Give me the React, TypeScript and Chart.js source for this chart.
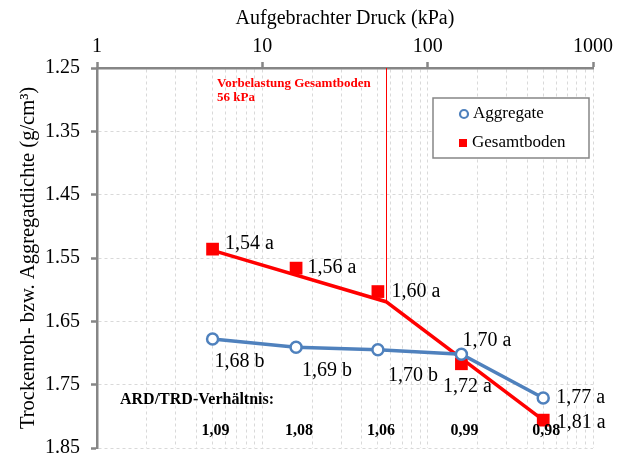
import React, { useEffect, useRef } from 'react';
import { Chart, registerables } from 'chart.js';

Chart.register(...registerables);

// ---- data ----
const pressures = [5, 16, 50, 160, 500];
const aggregate = [1.678, 1.691, 1.695, 1.702, 1.771];
const gesamtboden = [1.536, 1.566, 1.603, 1.717, 1.806];
const fitPressures = [5, 56, 500];
const fitValues = [1.538, 1.619, 1.806];
const aggregateLabels = ['1,68 b', '1,69 b', '1,70 b', '1,70 a', '1,77 a'];
const gesamtLabels = ['1,54 a', '1,56 a', '1,60 a', '1,72 a', '1,81 a'];
const ratioLabels = ['1,09', '1,08', '1,06', '0,99', '0,98'];
const preconsolidation = 56;
const xGridTicks = [1, 2, 3, 4, 5, 6, 7, 8, 9, 10, 20, 30, 40, 50, 60, 70, 80, 90, 100, 200, 300, 400, 500, 600, 700, 800, 900, 1000];
const xMajorTicks = [1, 10, 100, 1000];
const yTicks = [1.25, 1.35, 1.45, 1.55, 1.65, 1.75, 1.85];

// ---- styles / label placement (pixel offsets from points) ----
const aggLabelOffsets = [[2, 23], [6, 23], [10, 26], [1, -14], [13, 0]];
const gesLabelOffsets = [[12.5, -5], [11.5, 0], [13.5, 0], [-18.5, 23], [13.5, 3]];
const FONT = "'Liberation Serif', 'Times New Roman', serif";
const BLUE = '#4F81BD';
const RED = '#FF0000';
const AXIS = '#868686';
const GRID = '#d9d9d9';

const overlay = {
  id: 'overlay',
  beforeDatasetsDraw(chart: any) {
    const { ctx, chartArea, scales } = chart;
    const x = scales.x.getPixelForValue(preconsolidation);
    const yEnd = scales.y.getPixelForValue(fitValues[1]);
    ctx.save();
    ctx.strokeStyle = RED;
    ctx.lineWidth = 1;
    ctx.beginPath();
    ctx.moveTo(Math.round(x) + 0.5, chartArea.top);
    ctx.lineTo(Math.round(x) + 0.5, yEnd);
    ctx.stroke();
    ctx.restore();
  },
  afterDatasetsDraw(chart: any) {
    const { ctx, chartArea, scales } = chart;
    const xs = scales.x;
    const ys = scales.y;
    ctx.save();
    ctx.textBaseline = 'middle';
    ctx.textAlign = 'left';
    ctx.fillStyle = '#000';
    ctx.font = `20px ${FONT}`;
    pressures.forEach((p, i) => {
      const px = xs.getPixelForValue(p);
      const pyA = ys.getPixelForValue(aggregate[i]);
      const pyG = ys.getPixelForValue(gesamtboden[i]);
      ctx.fillText(aggregateLabels[i], px + aggLabelOffsets[i][0], pyA + aggLabelOffsets[i][1]);
      ctx.fillText(gesamtLabels[i], px + gesLabelOffsets[i][0], pyG + gesLabelOffsets[i][1]);
    });
    // ratio labels
    ctx.font = `bold 16px ${FONT}`;
    ctx.textAlign = 'left';
    ctx.fillText('ARD/TRD-Verhältnis:', chartArea.left + 23, chartArea.bottom - 48);
    ctx.textAlign = 'center';
    pressures.forEach((p, i) => {
      ctx.fillText(ratioLabels[i], xs.getPixelForValue(p) + 3, chartArea.bottom - 17);
    });
    // preconsolidation note
    ctx.fillStyle = RED;
    ctx.textAlign = 'left';
    ctx.font = `bold 13px ${FONT}`;
    ctx.fillText('Vorbelastung Gesamtboden', chartArea.left + 120, chartArea.top + 16);
    ctx.fillText('56 kPa', chartArea.left + 120, chartArea.top + 30);
    // legend
    const lx = chartArea.left + 336;
    const ly = chartArea.top + 30;
    ctx.fillStyle = '#fff';
    ctx.fillRect(lx, ly, 156, 60);
    ctx.strokeStyle = AXIS;
    ctx.lineWidth = 1.5;
    ctx.strokeRect(lx, ly, 156, 60);
    ctx.beginPath();
    ctx.arc(lx + 31, ly + 16, 4, 0, Math.PI * 2);
    ctx.fillStyle = '#fff';
    ctx.fill();
    ctx.strokeStyle = BLUE;
    ctx.lineWidth = 2.2;
    ctx.stroke();
    ctx.fillStyle = RED;
    ctx.fillRect(lx + 26, ly + 41, 8, 8);
    ctx.fillStyle = '#000';
    ctx.font = `17px ${FONT}`;
    ctx.fillText('Aggregate', lx + 40, ly + 16);
    ctx.fillText('Gesamtboden', lx + 39, ly + 45);
    ctx.restore();
  },
};

export default function App() {
  const ref = useRef<HTMLCanvasElement>(null);
  useEffect(() => {
    if (!ref.current) return;
    const chart = new Chart(ref.current, {
      type: 'line',
      data: {
        datasets: [
          {
            label: 'Aggregate',
            data: pressures.map((p, i) => ({ x: p, y: aggregate[i] })),
            borderColor: BLUE,
            borderWidth: 3.5,
            pointStyle: 'circle',
            pointRadius: 5.5,
            pointBorderWidth: 2.5,
            pointBorderColor: BLUE,
            pointBackgroundColor: '#fff',
            tension: 0,
          },
          {
            label: 'Gesamtboden',
            data: pressures.map((p, i) => ({ x: p, y: gesamtboden[i] })),
            showLine: false,
            pointStyle: 'rect',
            pointRadius: 9,
            pointBorderWidth: 0,
            pointBackgroundColor: RED,
            pointBorderColor: RED,
          },
          {
            label: 'Gesamtboden Trend',
            data: fitPressures.map((p, i) => ({ x: p, y: fitValues[i] })),
            borderColor: RED,
            borderWidth: 3.5,
            pointRadius: 0,
            tension: 0,
          },
        ],
      },
      options: {
        animation: false,
        responsive: false,
        layout: { padding: { left: 0, top: 0, right: 29, bottom: 7 }, autoPadding: false },
        plugins: { legend: { display: false }, tooltip: { enabled: false } },
        scales: {
          x: {
            type: 'logarithmic',
            position: 'top',
            min: 1,
            max: 1000,
            afterBuildTicks: (s: any) => {
              s.ticks = xGridTicks.map((v) => ({ value: v }));
            },
            afterFit: (s: any) => {
              s.height = 68;
              s.paddingLeft = 0;
              s.paddingRight = 0;
              s.paddingTop = 0;
              s.paddingBottom = 0;
            },
            ticks: {
              autoSkip: false,
              maxRotation: 0,
              padding: 3,
              color: '#000',
              font: { family: FONT, size: 20 },
              callback: (v: any) => (xMajorTicks.includes(Number(v)) ? String(v) : ''),
            },
            grid: {
              color: GRID,
              lineWidth: 1,
              tickLength: 6,
              tickWidth: 2.5,
              tickColor: (c: any) => (c.tick && xMajorTicks.includes(c.tick.value) ? AXIS : 'rgba(0,0,0,0)'),
            },
            border: { color: AXIS, width: 2.5, dash: [3, 3] },
            title: {
              display: true,
              text: 'Aufgebrachter Druck (kPa)',
              color: '#000',
              font: { family: FONT, size: 20 },
              padding: { top: 7, bottom: 0 },
            },
          },
          y: {
            type: 'linear',
            reverse: true,
            min: 1.25,
            max: 1.85,
            afterBuildTicks: (s: any) => {
              s.ticks = yTicks.map((v) => ({ value: v }));
            },
            afterFit: (s: any) => {
              s.width = 97;
              s.paddingLeft = 0;
              s.paddingRight = 0;
              s.paddingTop = 0;
              s.paddingBottom = 0;
            },
            ticks: {
              padding: 11,
              color: '#000',
              font: { family: FONT, size: 20 },
              callback: (v: any) => Number(v).toFixed(2),
            },
            grid: {
              color: GRID,
              lineWidth: 1,
              tickLength: 6,
              tickWidth: 2.5,
              tickColor: AXIS,
            },
            border: { color: AXIS, width: 2.5, dash: [3, 3] },
            title: {
              display: true,
              text: 'Trockenroh- bzw. Aggregatdichte (g/cm³)',
              color: '#000',
              font: { family: FONT, size: 20.5 },
              padding: { top: 16, bottom: 0 },
            },
          },
        },
      },
      plugins: [overlay],
    } as any);
    return () => chart.destroy();
  }, []);
  return (
    <div style={{ position: 'fixed', left: 0, top: 0, width: 622, height: 455, background: '#fff' }}>
      <canvas ref={ref} width={622} height={455} />
    </div>
  );
}
